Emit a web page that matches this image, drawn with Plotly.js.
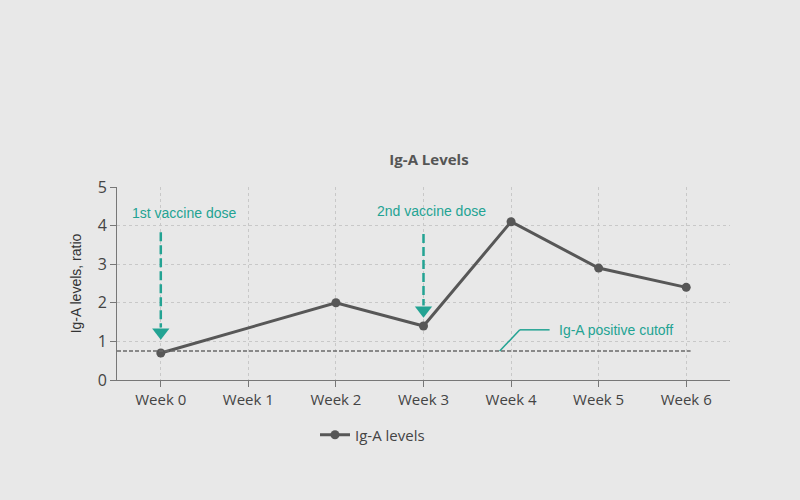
<!DOCTYPE html>
<html>
<head>
<meta charset="utf-8">
<script src="https://cdn.plot.ly/plotly-3.0.1.min.js"></script>
<style>html,body{margin:0;padding:0;background:#e8e8e8;}#chart{width:800px;height:500px;}</style>
</head>
<body>
<div id="chart"></div>
<script>
const weeks = ["Week 0","Week 1","Week 2","Week 3","Week 4","Week 5","Week 6"];
const igaValues = [0.7, null, 2.0, 1.4, 4.1, 2.9, 2.4];
const cutoffValue = 0.75;
const doseLabels = ["1st vaccine dose", "2nd vaccine dose"];
const doseWeeks = ["Week 0", "Week 3"];
const doseArrowTop = [3.83, 3.78];
const doseArrowTip = [1.24, 1.81];
const cutoffLabel = "Ig-A positive cutoff";
const teal = "#23a393";

const traces = [
  {
    x: weeks, y: igaValues, type: "scatter", mode: "lines+markers",
    name: "Ig-A levels", connectgaps: true,
    line: {color: "#575757", width: 3},
    marker: {color: "#575757", size: 9},
    cliponaxis: false
  },
  {
    x: doseWeeks, y: doseArrowTip, type: "scatter", mode: "markers",
    showlegend: false, hoverinfo: "skip",
    marker: {symbol: "triangle-down", color: teal, size: 15}
  }
];

const shapes = [
  {type: "line", xref: "x", yref: "y", x0: -0.5, x1: 6.05, y0: cutoffValue, y1: cutoffValue,
   line: {color: "#6a6a6a", width: 1.5, dash: "4px,2px"}},
  {type: "line", xref: "x", yref: "y", x0: 3.87, x1: 4.1, y0: cutoffValue, y1: 1.3,
   line: {color: teal, width: 1.5}},
  {type: "line", xref: "x", yref: "y", x0: 4.1, x1: 4.44, y0: 1.3, y1: 1.3,
   line: {color: teal, width: 1.5}}
];
doseWeeks.forEach((w, i) => {
  const idx = weeks.indexOf(w);
  shapes.push({type: "line", xref: "x", yref: "y", x0: idx, x1: idx,
    y0: doseArrowTop[i], y1: doseArrowTip[i] + 0.12,
    line: {color: teal, width: 2.5, dash: "9px,4px"}});
});

const annFont = {family: "Liberation Sans, Arial", size: 14, color: teal};
const annotations = [
  {x: 0.27, y: 4.33, xref: "x", yref: "y", text: doseLabels[0], showarrow: false, font: annFont},
  {x: 3.09, y: 4.38, xref: "x", yref: "y", text: doseLabels[1], showarrow: false, font: annFont},
  {x: 4.52, y: 1.3, xref: "x", yref: "y", text: cutoffLabel, showarrow: false, xanchor: "left", font: annFont}
];

const layout = {
  width: 800, height: 500,
  paper_bgcolor: "#e8e8e8", plot_bgcolor: "#e8e8e8",
  margin: {l: 117, r: 70, t: 187, b: 120},
  font: {family: "Open Sans, sans-serif", color: "#444"},
  title: {text: "<b>Ig-A Levels</b>", x: 429/800, xanchor: "center", y: 1 - 160/500, yanchor: "middle",
          font: {family: "Open Sans, sans-serif", size: 15, color: "#555"}},
  xaxis: {
    type: "category", categoryorder: "array", categoryarray: weeks,
    range: [-0.5, 6.5], showgrid: true, gridcolor: "#c8c8c8", griddash: "dot", gridwidth: 1,
    showline: true, linecolor: "#777", linewidth: 1,
    ticks: "outside", ticklen: 6, tickcolor: "#777",
    tickfont: {family: "Open Sans, sans-serif", size: 15, color: "#444"}, zeroline: false
  },
  yaxis: {
    range: [0, 5], dtick: 1, showgrid: true, gridcolor: "#c8c8c8", griddash: "dot", gridwidth: 1,
    showline: true, linecolor: "#777", linewidth: 1,
    ticks: "outside", ticklen: 6, tickcolor: "#777",
    tickfont: {family: "Open Sans, sans-serif", size: 16, color: "#444"}, zeroline: false,
    title: {text: "Ig-A levels, ratio", font: {family: "Liberation Sans, Arial", size: 14, color: "#333"}, standoff: 12}
  },
  showlegend: true,
  legend: {orientation: "h", x: (315-117)/613, xanchor: "left", y: (380-435)/193, yanchor: "middle",
           itemwidth: 30, font: {family: "Open Sans, sans-serif", size: 15, color: "#444"}, bgcolor: "rgba(0,0,0,0)"},
  shapes: shapes,
  annotations: annotations
};

Plotly.newPlot("chart", traces, layout, {displayModeBar: false, staticPlot: true});
</script>
</body>
</html>
